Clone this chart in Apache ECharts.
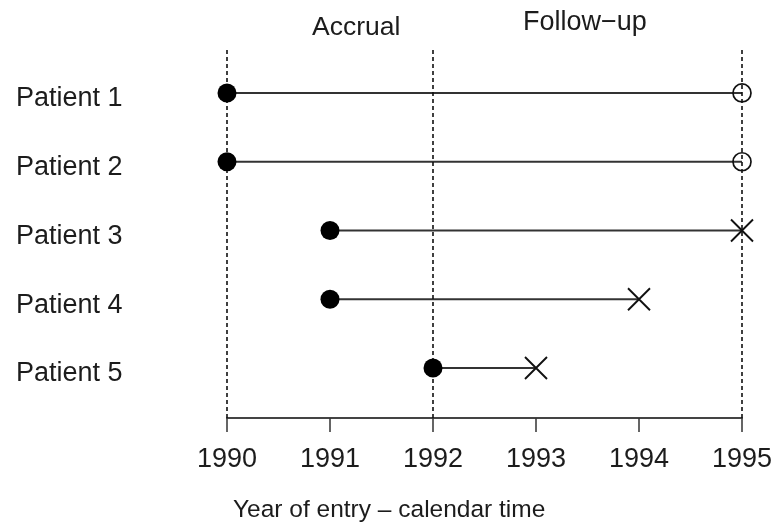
<!DOCTYPE html>
<html>
<head>
<meta charset="utf-8">
<script src="https://cdn.jsdelivr.net/npm/echarts@6/dist/echarts.min.js"></script>
<style>
html,body{margin:0;padding:0;background:#fff;}
#chart{width:776px;height:525px;}
</style>
</head>
<body>
<div id="chart"></div>
<script>
const patients = ['Patient 1', 'Patient 2', 'Patient 3', 'Patient 4', 'Patient 5'];
const entryYear = [1990, 1990, 1991, 1991, 1992];
const exitYear = [1995, 1995, 1995, 1994, 1993];
const outcome = ['censored', 'censored', 'event', 'event', 'event'];
const xTickLabels = [1990, 1991, 1992, 1993, 1994, 1995];
const periodLines = [1990, 1992, 1995];
const axisTitle = 'Year of entry \u2013 calendar time';
const accrualLabel = 'Accrual';
const followLabel = 'Follow\u2212up';

const FONT = 'Liberation Sans, Arial, Helvetica, sans-serif';
const TXT = '#1c1c1c';

const rows = patients.map((p, i) => i + 1);

const segmentSeries = patients.map((p, i) => ({
  type: 'line',
  name: p,
  data: [[entryYear[i], rows[i]], [exitYear[i], rows[i]]],
  symbol: 'none',
  lineStyle: { color: '#333', width: 2, opacity: 1 },
  silent: true,
  z: 2
}));

const entryPts = patients.map((p, i) => [entryYear[i], rows[i]]);
const censPts = [];
const eventPts = [];
patients.forEach((p, i) => {
  if (outcome[i] === 'censored') censPts.push([exitYear[i], rows[i]]);
  else eventPts.push([exitYear[i], rows[i]]);
});

const chart = echarts.init(document.getElementById('chart'), null, { renderer: 'canvas' });
chart.setOption({
  animation: false,
  backgroundColor: '#fff',
  grid: { left: 227, right: 34, top: 50, bottom: 107, containLabel: false },
  xAxis: {
    type: 'value',
    min: 1990,
    max: 1995,
    interval: 1,
    axisLine: { show: true, lineStyle: { color: '#444', width: 2 } },
    axisTick: { show: true, length: 14, inside: false, lineStyle: { color: '#333', width: 1.5 } },
    axisLabel: {
      show: true,
      margin: 28,
      fontSize: 27,
      fontFamily: FONT,
      color: TXT,
      formatter: v => String(xTickLabels[Math.round(v - 1990)])
    },
    splitLine: { show: false }
  },
  yAxis: {
    type: 'value',
    inverse: true,
    min: 0.375,
    max: 5.727,
    axisLine: { show: false },
    axisTick: { show: false },
    splitLine: { show: false },
    axisLabel: {
      show: true,
      customValues: rows,
      margin: 211,
      align: 'left',
      verticalAlign: 'top',
      lineHeight: 12,
      fontSize: 27,
      fontFamily: FONT,
      color: TXT,
      formatter: v => patients[Math.round(v) - 1] || ''
    }
  },
  series: [
    ...segmentSeries,
    {
      type: 'scatter',
      name: 'periods',
      data: [],
      silent: true,
      markLine: {
        silent: true,
        symbol: 'none',
        label: { show: false },
        lineStyle: { color: '#111', width: 1.6, type: [4, 3], opacity: 1 },
        data: periodLines.map(x => ({ xAxis: x }))
      },
      z: 1
    },
    {
      type: 'scatter',
      name: 'entry',
      data: entryPts,
      symbol: 'circle',
      symbolSize: 19,
      itemStyle: { color: '#000', opacity: 1 },
      silent: true,
      z: 5
    },
    {
      type: 'scatter',
      name: 'censored',
      data: censPts,
      symbol: 'circle',
      symbolSize: 18,
      itemStyle: { color: 'rgba(0,0,0,0)', borderColor: '#111', borderWidth: 1.7, opacity: 1 },
      silent: true,
      z: 5
    },
    {
      type: 'scatter',
      name: 'event',
      data: eventPts,
      symbol: 'path://M0,0L10,10M10,0L0,10',
      symbolSize: 22,
      itemStyle: { color: 'none', borderColor: '#111', borderWidth: 1.9, opacity: 1 },
      silent: true,
      z: 5
    }
  ],
  graphic: [
    { type: 'text', x: 312, y: 27.5, style: { text: accrualLabel, font: '26.5px ' + FONT, fill: TXT, verticalAlign: 'middle', align: 'left' } },
    { type: 'text', x: 523, y: 23, style: { text: followLabel, font: '27px ' + FONT, fill: TXT, verticalAlign: 'middle', align: 'left' } },
    { type: 'text', x: 233, y: 510.5, style: { text: axisTitle, font: '24.5px ' + FONT, fill: TXT, verticalAlign: 'middle', align: 'left' } }
  ]
});
</script>
</body>
</html>
